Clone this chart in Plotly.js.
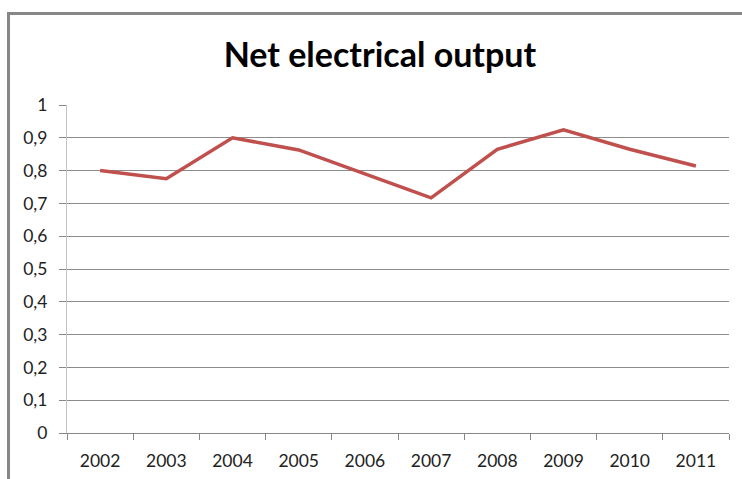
<!DOCTYPE html>
<html><head><meta charset="utf-8">
<script src="https://cdn.plot.ly/plotly-3.0.1.min.js"></script>
<style>
html,body{margin:0;padding:0;background:#fff;}
#wrap{position:relative;width:742px;height:479px;overflow:hidden;}
#frame{position:absolute;left:7px;top:12px;width:800px;height:600px;border-left:3px solid #878787;border-top:3px solid #878787;box-sizing:border-box;}
#chart{position:absolute;left:0;top:0;width:742px;height:479px;}
</style></head>
<body><div id="wrap"><div id="frame"></div><div id="chart"></div></div>
<script>
const years = ['2002','2003','2004','2005','2006','2007','2008','2009','2010','2011'];
const output = [0.80, 0.775, 0.90, 0.863, 0.79, 0.717, 0.865, 0.924, 0.865, 0.814];
const yTickVals = [0,0.1,0.2,0.3,0.4,0.5,0.6,0.7,0.8,0.9,1];
const yTickText = ['0','0,1','0,2','0,3','0,4','0,5','0,6','0,7','0,8','0,9','1'];
const chartTitle = 'Net electrical output';

Plotly.newPlot('chart', [{
  x: years, y: output, type: 'scatter', mode: 'lines',
  line: {color: '#C0504D', width: 3.5}
}], {
  width: 742, height: 479,
  paper_bgcolor: 'rgba(0,0,0,0)', plot_bgcolor: 'rgba(0,0,0,0)',
  margin: {l: 67, r: 13, t: 105, b: 46},
  showlegend: false,
  title: {text: '<b>' + chartTitle + '</b>', font: {family: 'Lato, Open Sans, sans-serif', size: 34, color: '#000'}, x: 0.512, xanchor: 'center', y: 0.885, yanchor: 'middle'},
  xaxis: {type: 'category', range: [-0.5, 9.5], tickson: 'boundaries', ticks: 'outside', ticklen: 6, tickcolor: '#888', tickwidth: 1,
    showline: true, linecolor: '#888', linewidth: 1, showgrid: false, zeroline: false, ticklabelstandoff: 12,
    tickfont: {family: 'Lato, Open Sans, sans-serif', size: 17.5, color: '#222'}, fixedrange: true},
  yaxis: {range: [0, 1], tickmode: 'array', tickvals: yTickVals, ticktext: yTickText,
    ticks: 'outside', ticklen: 7, tickcolor: '#888', showline: true, linecolor: '#c4c4c4', linewidth: 1,
    showgrid: true, gridcolor: '#8c8c8c', gridwidth: 1, zeroline: false, ticklabelstandoff: 8,
    tickfont: {family: 'Lato, Open Sans, sans-serif', size: 17.5, color: '#222'}, fixedrange: true}
}, {staticPlot: true});
</script></body></html>
